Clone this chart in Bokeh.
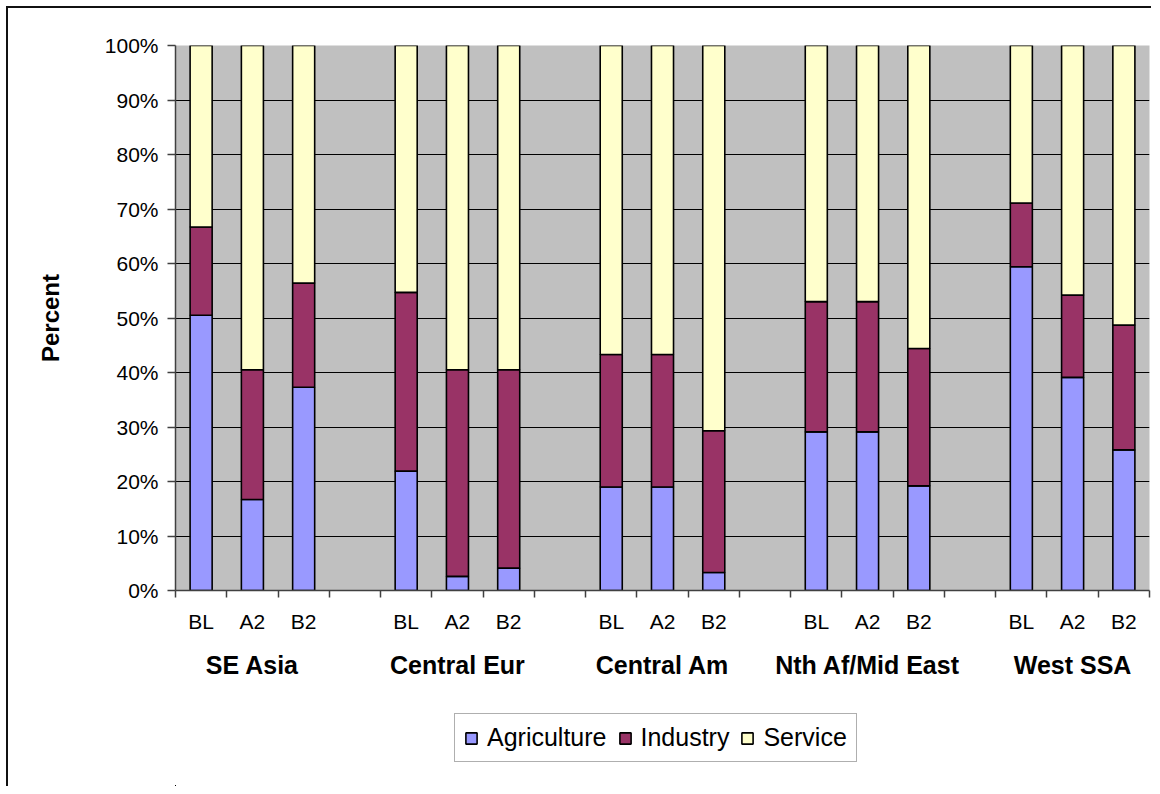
from bokeh.plotting import figure
from bokeh.layouts import column
from bokeh.models import (Range1d, LinearAxis, FixedTicker, NumeralTickFormatter,
                          Legend, LegendItem, ColumnDataSource)
from bokeh.embed import file_html
from bokeh.resources import INLINE

regions = ["SE Asia", "Central Eur", "Central Am", "Nth Af/Mid East", "West SSA"]
scenarios = ["BL", "A2", "B2"]
sectors = ["Agriculture", "Industry", "Service"]
colors = ["#9999FF", "#993366", "#FFFFCC"]

# fractions per bar, in order region x scenario
agriculture = [0.505, 0.167, 0.373,
               0.219, 0.026, 0.041,
               0.190, 0.190, 0.033,
               0.291, 0.291, 0.192,
               0.594, 0.391, 0.258]
industry = [0.162, 0.238, 0.191,
            0.328, 0.379, 0.364,
            0.243, 0.243, 0.260,
            0.239, 0.239, 0.252,
            0.117, 0.151, 0.229]
service = [round(1 - a - i, 3) for a, i in zip(agriculture, industry)]

y_ticks = [0.0, 0.1, 0.2, 0.3, 0.4, 0.5, 0.6, 0.7, 0.8, 0.9, 1.0]

FONT = "Liberation Sans"

# slot layout: each region has len(scenarios) bars plus one empty slot between regions
per_group = len(scenarios) + 1
n_slots = len(regions) * per_group - 1
x_pos = [gi * per_group + si + 0.5 for gi in range(len(regions)) for si in range(len(scenarios))]
x_lab = [s for _ in regions for s in scenarios]
group_pos = [gi * per_group + len(scenarios) / 2 for gi in range(len(regions))]

source = ColumnDataSource(data=dict(x=x_pos, Agriculture=agriculture,
                                    Industry=industry, Service=service))

p = figure(x_range=Range1d(0, n_slots), y_range=Range1d(0, 1),
           frame_width=972, frame_height=543,
           min_border_left=167, min_border_right=4, min_border_top=37, min_border_bottom=110,
           x_axis_location=None, y_axis_location=None,
           toolbar_location=None, output_backend="svg")
p.styles = {"border-left": "2px solid #111111", "border-top": "2px solid #111111",
            "margin-left": "6px", "margin-top": "6px"}
p.background_fill_color = "#C0C0C0"
p.border_fill_color = "white"
p.outline_line_color = None

# y axis
yaxis = LinearAxis(ticker=FixedTicker(ticks=y_ticks),
                   formatter=NumeralTickFormatter(format="0%"))
yaxis.axis_label = "Percent"
yaxis.axis_label_text_font = FONT
yaxis.axis_label_text_font_size = "24px"
yaxis.axis_label_text_font_style = "bold"
yaxis.axis_label_text_color = "black"
yaxis.axis_label_standoff = 38
yaxis.major_label_text_font = FONT
yaxis.major_label_text_font_size = "21px"
yaxis.major_label_text_color = "black"
yaxis.major_label_standoff = 9
yaxis.major_tick_out = 8
yaxis.major_tick_in = 0
yaxis.minor_tick_line_color = None
yaxis.axis_line_color = "#404040"
yaxis.axis_line_width = 1.5
yaxis.major_tick_line_color = "#404040"
yaxis.major_tick_line_width = 1.5
p.add_layout(yaxis, "left")

# x axis line with ticks at slot boundaries
tick_axis = LinearAxis(ticker=FixedTicker(ticks=list(range(n_slots + 1))))
tick_axis.major_label_text_font_size = "0px"
tick_axis.major_label_text_color = None
tick_axis.major_label_standoff = 0
tick_axis.major_tick_out = 7
tick_axis.major_tick_in = 0
tick_axis.minor_tick_line_color = None
tick_axis.axis_line_color = "#404040"
tick_axis.axis_line_width = 1.5
tick_axis.major_tick_line_color = "#404040"
tick_axis.major_tick_line_width = 1.5
p.add_layout(tick_axis, "below")

# scenario labels
scen_axis = LinearAxis(ticker=FixedTicker(ticks=x_pos),
                       major_label_overrides={x: s for x, s in zip(x_pos, x_lab)})
scen_axis.axis_line_color = None
scen_axis.major_tick_line_color = None
scen_axis.minor_tick_line_color = None
scen_axis.major_tick_out = 0
scen_axis.major_tick_in = 0
scen_axis.major_label_text_font = FONT
scen_axis.major_label_text_font_size = "21px"
scen_axis.major_label_text_color = "black"
scen_axis.major_label_standoff = 12
p.add_layout(scen_axis, "below")

# region labels
group_axis = LinearAxis(ticker=FixedTicker(ticks=group_pos),
                        major_label_overrides={x: r for x, r in zip(group_pos, regions)})
group_axis.axis_line_color = None
group_axis.major_tick_line_color = None
group_axis.minor_tick_line_color = None
group_axis.major_tick_out = 0
group_axis.major_tick_in = 0
group_axis.major_label_text_font = FONT
group_axis.major_label_text_font_size = "25px"
group_axis.major_label_text_font_style = "bold"
group_axis.major_label_text_color = "black"
group_axis.major_label_standoff = 15
p.add_layout(group_axis, "below")

p.xgrid.grid_line_color = None
p.ygrid.ticker = FixedTicker(ticks=y_ticks)
p.ygrid.grid_line_color = "black"
p.ygrid.grid_line_width = 1

p.vbar_stack(sectors, x="x", width=0.43, source=source,
             fill_color=colors, line_color="black", line_width=1.6)

# legend strip below the chart (same series, plotted out of view so only the legend shows)
p2 = figure(x_range=Range1d(2 * n_slots, 3 * n_slots), y_range=Range1d(2, 3),
            width=1143, height=88, min_border=0,
            x_axis_location=None, y_axis_location=None,
            toolbar_location=None, output_backend="svg")
p2.styles = {"border-left": "2px solid #111111", "margin-left": "6px"}
p2.background_fill_color = "white"
p2.border_fill_color = "white"
p2.outline_line_color = None
p2.xgrid.grid_line_color = None
p2.ygrid.grid_line_color = None
legend_renderers = p2.vbar_stack(sectors, x="x", width=0.43, source=source,
                                 fill_color=colors, line_color="black", line_width=1.6)

legend = Legend(items=[LegendItem(label=s, renderers=[r]) for s, r in zip(sectors, legend_renderers)],
                orientation="horizontal", location=(279, 24))
legend.label_text_font = FONT
legend.label_text_font_size = "25px"
legend.label_text_color = "black"
legend.glyph_width = 14
legend.glyph_height = 14
legend.label_standoff = 9
legend.spacing = 11
legend.padding = 9
legend.margin = 0
legend.border_line_color = "#606060"
legend.border_line_width = 1.2
legend.background_fill_color = "white"
legend.background_fill_alpha = 1.0
p2.add_layout(legend, "center")

layout = column(p, p2, spacing=0)
open("out.html", "w").write(file_html(layout, INLINE))
